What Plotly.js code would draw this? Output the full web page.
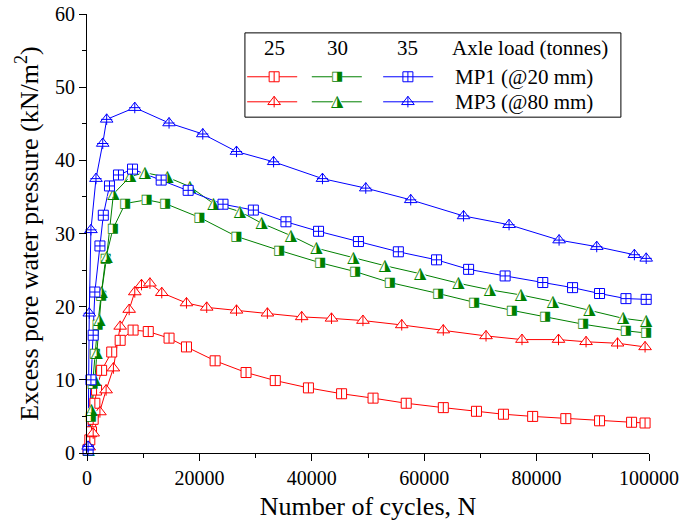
<!DOCTYPE html>
<html><head><meta charset="utf-8">
<script src="https://cdn.plot.ly/plotly-3.0.1.min.js"></script>
<style>body{margin:0;background:#fff}#chart{width:679px;height:522px}</style>
</head><body><div id="chart"></div>
<script>
// ---- data ----
const cycles25MP1 = [200, 500, 800, 1100, 1400, 1700, 2600, 4400, 5900, 8200, 10900, 14600, 17700, 22800, 28300, 33500, 39400, 45300, 50900, 56800, 63400, 69300, 74100, 79300, 85200, 91200, 96900, 99300];
const ppw25MP1    = [0.5, 1.8, 2.9, 4.6, 6.8, 8.6, 11.3, 13.8, 15.4, 16.8, 16.6, 15.7, 14.5, 12.6, 11.0, 9.9, 8.9, 8.1, 7.5, 6.8, 6.2, 5.7, 5.3, 5.0, 4.7, 4.4, 4.2, 4.1];

const cycles25MP3 = [400, 1100, 2300, 3400, 4700, 5900, 7500, 8500, 9700, 11200, 13300, 17700, 21300, 26600, 32100, 38200, 43500, 49100, 56000, 63400, 71000, 77400, 83900, 88800, 94400, 99300];
const ppw25MP3    = [0.8, 2.7, 5.6, 8.6, 11.6, 17.3, 19.6, 22.0, 23.0, 23.2, 21.9, 20.5, 19.9, 19.5, 19.1, 18.6, 18.4, 18.1, 17.5, 16.8, 16.0, 15.5, 15.5, 15.2, 15.0, 14.5];

const cycles30MP1 = [200, 700, 1000, 1400, 1900, 2500, 3300, 4600, 6800, 10600, 13900, 20000, 26600, 34200, 41500, 47700, 53900, 62500, 68900, 75600, 81500, 88300, 95900, 99500];
const ppw30MP1    = [0.4, 5.0, 9.5, 13.5, 17.5, 21.5, 26.5, 30.6, 34.1, 34.6, 34.1, 32.2, 29.6, 27.7, 26.0, 24.8, 23.3, 21.8, 20.6, 19.5, 18.6, 17.6, 16.7, 16.4];

const cycles30MP3 = [300, 800, 1400, 1700, 2200, 2600, 3500, 4700, 7700, 10300, 14300, 18300, 22500, 27200, 31100, 36300, 40800, 47400, 53000, 59300, 66100, 71700, 77200, 82900, 89400, 95400, 99500];
const ppw30MP3    = [0.4, 5.9, 10.0, 13.6, 18.2, 22.0, 26.8, 35.4, 37.8, 38.3, 37.7, 36.4, 34.1, 33.0, 31.4, 29.7, 28.0, 26.7, 25.6, 24.5, 23.2, 22.3, 21.6, 20.7, 19.5, 18.4, 18.0];

const cycles35MP1 = [200, 700, 1100, 1400, 2300, 2900, 4000, 5600, 8100, 13200, 18000, 24200, 29600, 35400, 41200, 48300, 55400, 62200, 67900, 74400, 81100, 86400, 91200, 95900, 99500];
const ppw35MP1    = [0.4, 10.0, 16.1, 22.0, 28.3, 32.5, 36.5, 38.0, 38.8, 37.3, 35.9, 34.0, 33.2, 31.6, 30.3, 28.9, 27.5, 26.4, 25.1, 24.2, 23.3, 22.6, 21.8, 21.1, 21.0];

const cycles35MP3 = [200, 400, 700, 1600, 2800, 3500, 8500, 14600, 20600, 26600, 33200, 41900, 49600, 57600, 67000, 75100, 84000, 90700, 97400, 99500];
const ppw35MP3    = [0.9, 19.1, 30.5, 37.5, 42.3, 45.6, 47.2, 45.1, 43.6, 41.2, 39.8, 37.5, 36.2, 34.6, 32.4, 31.2, 29.1, 28.2, 27.1, 26.6];

const axleLoads = ['25', '30', '35'];
const legendHeader = 'Axle load (tonnes)';
const rowLabels = ['MP1 (@20 mm)', 'MP3 (@80 mm)'];
const xTicks = [0, 20000, 40000, 60000, 80000, 100000];
const yTicks = [0, 10, 20, 30, 40, 50, 60];

// ---- styles ----
const RED = '#FF0000', GREEN = '#008000', BLUE = '#0000FF';
const FONT = 'Liberation Serif, Times New Roman, serif';

function lineT(x, y, color, xa, ya) {
  return {x, y, type: 'scatter', mode: 'lines', line: {color, width: 1}, showlegend: false, hoverinfo: 'skip', xaxis: xa || 'x', yaxis: ya || 'y', cliponaxis: false};
}
function markT(x, y, symbol, size, fill, stroke, lw, xa, ya) {
  return {x, y, type: 'scatter', mode: 'markers', marker: {symbol, size, color: fill, line: {color: stroke, width: lw}}, showlegend: false, hoverinfo: 'skip', xaxis: xa || 'x', yaxis: ya || 'y', cliponaxis: false};
}
function glyphT(x, y, glyph, color, size, xa, ya) {
  return {x, y, type: 'scatter', mode: 'text', text: x.map(() => glyph), textposition: 'middle center', textfont: {family: 'DejaVu Sans', size, color}, showlegend: false, hoverinfo: 'skip', xaxis: xa || 'x', yaxis: ya || 'y', cliponaxis: false};
}

const styles = {
  redSq:  (x, y, xa, ya) => [markT(x, y, 'square', 10, '#fff', RED, 1, xa, ya), markT(x, y, 'line-ns', 7, RED, RED, 1, xa, ya)],
  redTri: (x, y, xa, ya) => [markT(x, y, 'triangle-up', 11, '#fff', RED, 1, xa, ya), markT(x, y, 'line-ns', 8, RED, RED, 1, xa, ya)],
  grnSq:  (x, y, xa, ya) => [markT(x, y, 'square', 10, '#fff', GREEN, 0, xa, ya), glyphT(x, y, '\u25E8', GREEN, 13, xa, ya)],
  grnTri: (x, y, xa, ya) => [markT(x, y, 'triangle-up', 11, '#fff', GREEN, 0, xa, ya), glyphT(x, y, '\u25EE', GREEN, 16, xa, ya)],
  bluSq:  (x, y, xa, ya) => [markT(x, y, 'square-cross', 10, '#fff', BLUE, 1, xa, ya)],
  bluTri: (x, y, xa, ya) => [markT(x, y, 'triangle-up', 11, '#fff', BLUE, 1, xa, ya), markT(x, y, 'cross-thin', 8, BLUE, BLUE, 1, xa, ya)]
};

const series = [
  [cycles25MP1, ppw25MP1, RED, 'redSq'],
  [cycles25MP3, ppw25MP3, RED, 'redTri'],
  [cycles30MP1, ppw30MP1, GREEN, 'grnSq'],
  [cycles30MP3, ppw30MP3, GREEN, 'grnTri'],
  [cycles35MP1, ppw35MP1, BLUE, 'bluSq'],
  [cycles35MP3, ppw35MP3, BLUE, 'bluTri']
];

const traces = [];
series.forEach(s => traces.push(lineT(s[0], s[1], s[2])));
series.forEach(s => traces.push(...styles[s[3]](s[0], s[1])));

// ---- custom legend (drawn on an overlay axis pair spanning the plot area 0..1) ----
const legCols = [[0.285, 0.333, 0.374], [0.400, 0.445, 0.489], [0.527, 0.571, 0.616]];
const legRowsY = [0.857, 0.800];
const legStyles = [['redSq', 'grnSq', 'bluSq'], ['redTri', 'grnTri', 'bluTri']];
const legColors = [RED, GREEN, BLUE];
legRowsY.forEach((yy, r) => {
  legCols.forEach((c, k) => {
    traces.push(lineT([c[0], c[2]], [yy, yy], legColors[k], 'x2', 'y2'));
    traces.push(...styles[legStyles[r][k]]([c[1]], [yy], 'x2', 'y2'));
  });
});

const annotations = [];
axleLoads.forEach((t, k) => annotations.push({xref: 'paper', yref: 'paper', x: legCols[k][1], y: 0.923, text: t, showarrow: false, xanchor: 'center', yanchor: 'middle', font: {family: FONT, size: 21, color: '#000'}}));
annotations.push({xref: 'paper', yref: 'paper', x: 0.788, y: 0.923, text: legendHeader, showarrow: false, xanchor: 'center', yanchor: 'middle', font: {family: FONT, size: 21, color: '#000'}});
rowLabels.forEach((t, r) => annotations.push({xref: 'paper', yref: 'paper', x: 0.651, y: legRowsY[r], text: t, showarrow: false, xanchor: 'left', yanchor: 'middle', font: {family: FONT, size: 21, color: '#000'}}));

const axBase = {showgrid: false, zeroline: false, showline: true, linecolor: '#000', linewidth: 1, tickcolor: '#000', tickwidth: 1};

const layout = {
  width: 679, height: 522,
  margin: {l: 87, r: 30, t: 14, b: 69},
  paper_bgcolor: '#fff', plot_bgcolor: '#fff',
  font: {family: FONT, color: '#000'},
  showlegend: false,
  xaxis: Object.assign({}, axBase, {
    range: [0, 100000], tickvals: xTicks, ticktext: xTicks.map(String), ticks: 'outside', ticklen: 7,
    minor: {dtick: 10000, tick0: 0, ticks: 'outside', ticklen: 4, tickcolor: '#000', showgrid: false},
    tickfont: {family: FONT, size: 20, color: '#000'},
    title: {text: 'Number of cycles, N', font: {family: FONT, size: 26, color: '#000'}, standoff: 8}
  }),
  yaxis: Object.assign({}, axBase, {
    range: [0, 60], tickvals: yTicks, ticktext: yTicks.map(String), ticks: 'outside', ticklen: 7,
    minor: {dtick: 5, tick0: 0, ticks: 'outside', ticklen: 4, tickcolor: '#000', showgrid: false},
    tickfont: {family: FONT, size: 20, color: '#000'},
    title: {text: 'Excess pore water pressure (kN/m<sup>2</sup>)', font: {family: FONT, size: 26, color: '#000'}, standoff: 8}
  }),
  xaxis3: Object.assign({}, axBase, {
    overlaying: 'x', side: 'top', anchor: 'y', range: [0, 100000], tickvals: xTicks, ticks: 'inside', ticklen: 7, showticklabels: false,
    minor: {dtick: 10000, tick0: 0, ticks: 'inside', ticklen: 4, tickcolor: '#000', showgrid: false}
  }),
  yaxis3: Object.assign({}, axBase, {
    overlaying: 'y', side: 'right', anchor: 'x', range: [0, 60], tickvals: yTicks, ticks: 'inside', ticklen: 7, showticklabels: false,
    minor: {dtick: 5, tick0: 0, ticks: 'inside', ticklen: 4, tickcolor: '#000', showgrid: false}
  }),
  xaxis2: {overlaying: 'x', anchor: 'y2', range: [0, 1], visible: false, fixedrange: true},
  yaxis2: {overlaying: 'y', anchor: 'x2', range: [0, 1], visible: false, fixedrange: true},
  shapes: [{type: 'rect', xref: 'paper', yref: 'paper', x0: 0.281, x1: 0.950, y0: 0.765, y1: 0.957, line: {color: '#000', width: 1}, fillcolor: 'rgba(0,0,0,0)', layer: 'below'}],
  annotations
};

Plotly.newPlot('chart', traces, layout, {staticPlot: true, displayModeBar: false});
</script></body></html>
